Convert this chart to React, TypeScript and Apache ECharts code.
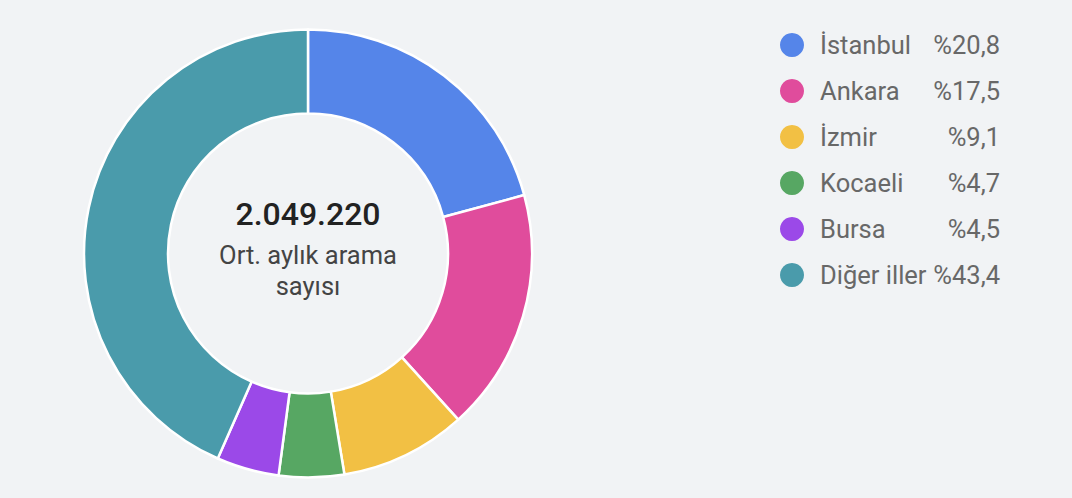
import React, { useEffect, useRef } from "react";
import * as echarts from "echarts";

const cities = ["İstanbul", "Ankara", "İzmir", "Kocaeli", "Bursa", "Diğer iller"];
const shares = [20.8, 17.5, 9.1, 4.7, 4.5, 43.4];
const colors = ["#5585e9", "#e04c9c", "#f2c044", "#57a763", "#9b49e8", "#4a9bab"];
const totalLabel = "2.049.220";
const subtitle = "Ort. aylık arama\nsayısı";

const fmtPct = (v: number) => "%" + v.toFixed(1).replace(".", ",");

export default function App() {
  const ref = useRef<HTMLDivElement>(null);
  useEffect(() => {
    document.body.style.margin = "0";
    const chart = echarts.init(ref.current!, undefined, { renderer: "svg" });
    const font = "Roboto, 'Noto Sans', sans-serif";
    chart.setOption({
      animation: false,
      backgroundColor: "#f1f3f5",
      color: colors,
      legend: {
        orient: "vertical",
        left: 780,
        top: 32,
        padding: 0,
        icon: "circle",
        itemWidth: 24,
        itemHeight: 24,
        itemGap: 20,
        selectedMode: false,
        itemStyle: { borderWidth: 0 },
        data: cities,
        formatter: (name: string) => {
          const i = cities.indexOf(name);
          return `{n|${name}}{p|${fmtPct(shares[i])}}`;
        },
        textStyle: {
          fontFamily: font,
          fontSize: 25.5,
          lineHeight: 24,
          color: "#686868",
          rich: {
            n: { fontFamily: font, fontSize: 25.5, color: "#686868", width: 110, padding: [0, 0, 0, 11], lineHeight: 24 },
            p: { fontFamily: font, fontSize: 25.5, color: "#686868", width: 70, align: "right", lineHeight: 24 },
          },
        },
      },
      graphic: [
        {
          type: "text",
          x: 308,
          y: 214,
          style: {
            text: totalLabel,
            fontFamily: font,
            fontSize: 32,
            fontWeight: 500,
            fill: "#222222",
            textAlign: "center",
            textVerticalAlign: "middle",
          },
        },
        {
          type: "text",
          x: 308,
          y: 270,
          style: {
            text: subtitle,
            fontFamily: font,
            fontSize: 25.5,
            lineHeight: 31,
            fill: "#444444",
            textAlign: "center",
            textVerticalAlign: "middle",
          },
        },
      ],
      series: [
        {
          type: "pie",
          center: [308, 253.5],
          radius: [140, 224],
          startAngle: 90,
          clockwise: true,
          label: { show: false },
          labelLine: { show: false },
          emphasis: { disabled: true },
          itemStyle: { borderColor: "#ffffff", borderWidth: 2.5 },
          data: cities.map((c, i) => ({ name: c, value: shares[i] })),
        },
      ],
    });
    return () => chart.dispose();
  }, []);
  return <div ref={ref} style={{ width: 1072, height: 498 }} />;
}
